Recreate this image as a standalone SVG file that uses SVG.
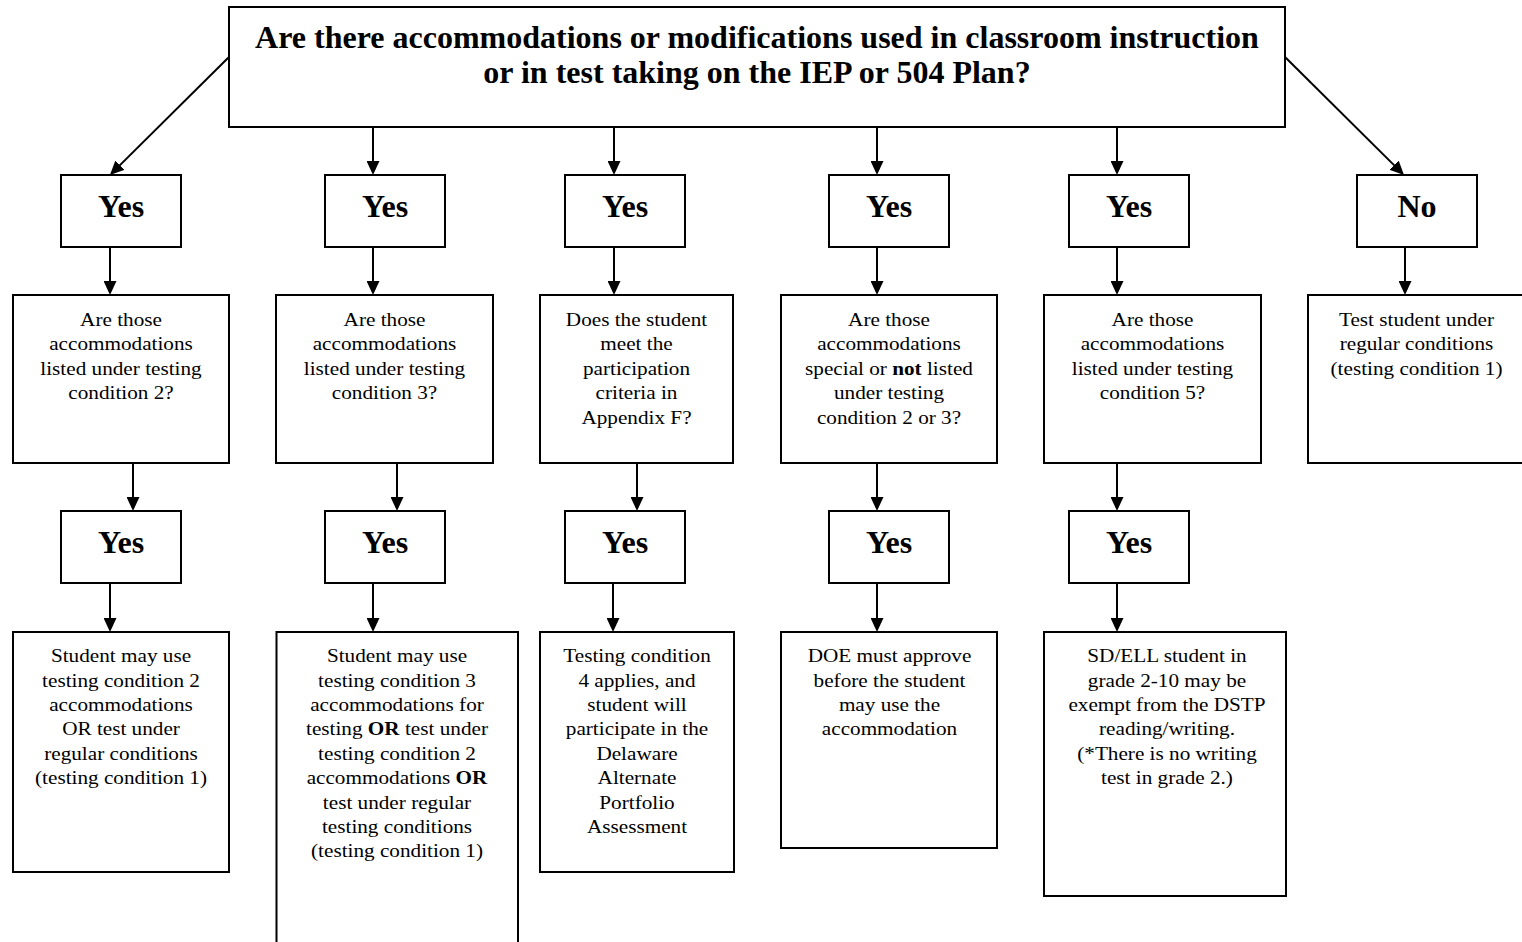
<svg xmlns="http://www.w3.org/2000/svg" width="1522" height="942" viewBox="0 0 1522 942">
<style>
  rect { fill: #fff; stroke: #000; stroke-width: 2; }
  .b { font-family: "Liberation Serif", "Times New Roman", serif; font-weight: bold; font-size: 32px; text-anchor: middle; fill: #000; }
  .t { font-family: "Liberation Serif", "Times New Roman", serif; font-size: 19px; text-anchor: middle; fill: #000; }
  .t tspan.k { font-weight: bold; }
  #connectors line { stroke: #000; stroke-width: 2; marker-end: url(#arr); }
</style>
<defs>
  <marker id="arr" markerUnits="userSpaceOnUse" markerWidth="14" markerHeight="13" refX="12" refY="6.5" orient="auto">
    <path d="M0,0 L14,6.5 L0,13 z" fill="#000"/>
  </marker>
</defs>
<rect x="0" y="0" width="1522" height="942" style="fill:#fff;stroke:none"/>

<g id="connectors">
  <line x1="229" y1="57" x2="111.4" y2="173.6"/>
  <line x1="373" y1="127" x2="373" y2="173"/>
  <line x1="614" y1="127" x2="614" y2="173"/>
  <line x1="877" y1="127" x2="877" y2="173"/>
  <line x1="1117" y1="127" x2="1117" y2="173"/>
  <line x1="1285" y1="57" x2="1402.6" y2="173.6"/>

  <line x1="110" y1="247" x2="110" y2="293"/>
  <line x1="373" y1="247" x2="373" y2="293"/>
  <line x1="614" y1="247" x2="614" y2="293"/>
  <line x1="877" y1="247" x2="877" y2="293"/>
  <line x1="1117" y1="247" x2="1117" y2="293"/>
  <line x1="1405" y1="247" x2="1405" y2="293"/>

  <line x1="133" y1="463" x2="133" y2="509"/>
  <line x1="397" y1="463" x2="397" y2="509"/>
  <line x1="637" y1="463" x2="637" y2="509"/>
  <line x1="877" y1="463" x2="877" y2="509"/>
  <line x1="1117" y1="463" x2="1117" y2="509"/>

  <line x1="110" y1="583" x2="110" y2="630"/>
  <line x1="373" y1="583" x2="373" y2="630"/>
  <line x1="613" y1="583" x2="613" y2="630"/>
  <line x1="877" y1="583" x2="877" y2="630"/>
  <line x1="1117" y1="583" x2="1117" y2="630"/>
</g>

<g id="q0">
  <rect x="229" y="7" width="1056" height="120"/>
  <text class="b" x="757" y="48">Are there accommodations or modifications used in classroom instruction</text>
  <text class="b" x="757" y="83">or in test taking on the IEP or 504 Plan?</text>
</g>

<g id="a1"><rect x="61" y="175" width="120" height="72"/><text class="b" x="121" y="217">Yes</text></g>
<g id="a2"><rect x="325" y="175" width="120" height="72"/><text class="b" x="385" y="217">Yes</text></g>
<g id="a3"><rect x="565" y="175" width="120" height="72"/><text class="b" x="625" y="217">Yes</text></g>
<g id="a4"><rect x="829" y="175" width="120" height="72"/><text class="b" x="889" y="217">Yes</text></g>
<g id="a5"><rect x="1069" y="175" width="120" height="72"/><text class="b" x="1129" y="217">Yes</text></g>
<g id="a6"><rect x="1357" y="175" width="120" height="72"/><text class="b" x="1417" y="217">No</text></g>

<g id="q1">
  <rect x="13" y="295" width="216" height="168"/>
  <g transform="translate(121 0) scale(1.116 1)">
    <text class="t" x="0" y="326">Are those</text>
    <text class="t" x="0" y="350.4">accommodations</text>
    <text class="t" x="0" y="374.8">listed under testing</text>
    <text class="t" x="0" y="399.2">condition 2?</text>
  </g>
</g>
<g id="q2">
  <rect x="276" y="295" width="217" height="168"/>
  <g transform="translate(384.5 0) scale(1.116 1)">
    <text class="t" x="0" y="326">Are those</text>
    <text class="t" x="0" y="350.4">accommodations</text>
    <text class="t" x="0" y="374.8">listed under testing</text>
    <text class="t" x="0" y="399.2">condition 3?</text>
  </g>
</g>
<g id="q3">
  <rect x="540" y="295" width="193" height="168"/>
  <g transform="translate(636.5 0) scale(1.116 1)">
    <text class="t" x="0" y="326">Does the student</text>
    <text class="t" x="0" y="350.4">meet the</text>
    <text class="t" x="0" y="374.8">participation</text>
    <text class="t" x="0" y="399.2">criteria in</text>
    <text class="t" x="0" y="423.6">Appendix F?</text>
  </g>
</g>
<g id="q4">
  <rect x="781" y="295" width="216" height="168"/>
  <g transform="translate(889 0) scale(1.116 1)">
    <text class="t" x="0" y="326">Are those</text>
    <text class="t" x="0" y="350.4">accommodations</text>
    <text class="t" x="0" y="374.8">special or <tspan class="k">not</tspan> listed</text>
    <text class="t" x="0" y="399.2">under testing</text>
    <text class="t" x="0" y="423.6">condition 2 or 3?</text>
  </g>
</g>
<g id="q5">
  <rect x="1044" y="295" width="217" height="168"/>
  <g transform="translate(1152.5 0) scale(1.116 1)">
    <text class="t" x="0" y="326">Are those</text>
    <text class="t" x="0" y="350.4">accommodations</text>
    <text class="t" x="0" y="374.8">listed under testing</text>
    <text class="t" x="0" y="399.2">condition 5?</text>
  </g>
</g>
<g id="q6">
  <rect x="1308" y="295" width="230" height="168"/>
  <g transform="translate(1416.5 0) scale(1.116 1)">
    <text class="t" x="0" y="326">Test student under</text>
    <text class="t" x="0" y="350.4">regular conditions</text>
    <text class="t" x="0" y="374.8">(testing condition 1)</text>
  </g>
</g>

<g id="b1"><rect x="61" y="511" width="120" height="72"/><text class="b" x="121" y="553">Yes</text></g>
<g id="b2"><rect x="325" y="511" width="120" height="72"/><text class="b" x="385" y="553">Yes</text></g>
<g id="b3"><rect x="565" y="511" width="120" height="72"/><text class="b" x="625" y="553">Yes</text></g>
<g id="b4"><rect x="829" y="511" width="120" height="72"/><text class="b" x="889" y="553">Yes</text></g>
<g id="b5"><rect x="1069" y="511" width="120" height="72"/><text class="b" x="1129" y="553">Yes</text></g>

<g id="r1">
  <rect x="13" y="632" width="216" height="240"/>
  <g transform="translate(121 0) scale(1.116 1)">
    <text class="t" x="0" y="662.3">Student may use</text>
    <text class="t" x="0" y="686.7">testing condition 2</text>
    <text class="t" x="0" y="711.1">accommodations</text>
    <text class="t" x="0" y="735.5">OR test under</text>
    <text class="t" x="0" y="759.9">regular conditions</text>
    <text class="t" x="0" y="784.3">(testing condition 1)</text>
  </g>
</g>
<g id="r2">
  <rect x="276.5" y="632" width="241.5" height="330"/>
  <g transform="translate(397 0) scale(1.116 1)">
    <text class="t" x="0" y="662.3">Student may use</text>
    <text class="t" x="0" y="686.7">testing condition 3</text>
    <text class="t" x="0" y="711.1">accommodations for</text>
    <text class="t" x="0" y="735.5">testing <tspan class="k">OR</tspan> test under</text>
    <text class="t" x="0" y="759.9">testing condition 2</text>
    <text class="t" x="0" y="784.3">accommodations <tspan class="k">OR</tspan></text>
    <text class="t" x="0" y="808.7">test under regular</text>
    <text class="t" x="0" y="833.1">testing conditions</text>
    <text class="t" x="0" y="857.5">(testing condition 1)</text>
  </g>
</g>
<g id="r3">
  <rect x="540" y="632" width="194" height="240"/>
  <g transform="translate(637 0) scale(1.116 1)">
    <text class="t" x="0" y="662.3">Testing condition</text>
    <text class="t" x="0" y="686.7">4 applies, and</text>
    <text class="t" x="0" y="711.1">student will</text>
    <text class="t" x="0" y="735.5">participate in the</text>
    <text class="t" x="0" y="759.9">Delaware</text>
    <text class="t" x="0" y="784.3">Alternate</text>
    <text class="t" x="0" y="808.7">Portfolio</text>
    <text class="t" x="0" y="833.1">Assessment</text>
  </g>
</g>
<g id="r4">
  <rect x="781" y="632" width="216" height="216"/>
  <g transform="translate(889.5 0) scale(1.116 1)">
    <text class="t" x="0" y="662.3">DOE must approve</text>
    <text class="t" x="0" y="686.7">before the student</text>
    <text class="t" x="0" y="711.1">may use the</text>
    <text class="t" x="0" y="735.5">accommodation</text>
  </g>
</g>
<g id="r5">
  <rect x="1044" y="632" width="242" height="264"/>
  <g transform="translate(1167 0) scale(1.116 1)">
    <text class="t" x="0" y="662.3">SD/ELL student in</text>
    <text class="t" x="0" y="686.7">grade 2-10 may be</text>
    <text class="t" x="0" y="711.1">exempt from the DSTP</text>
    <text class="t" x="0" y="735.5">reading/writing.</text>
    <text class="t" x="0" y="759.9">(*There is no writing</text>
    <text class="t" x="0" y="784.3">test in grade 2.)</text>
  </g>
</g>
</svg>
